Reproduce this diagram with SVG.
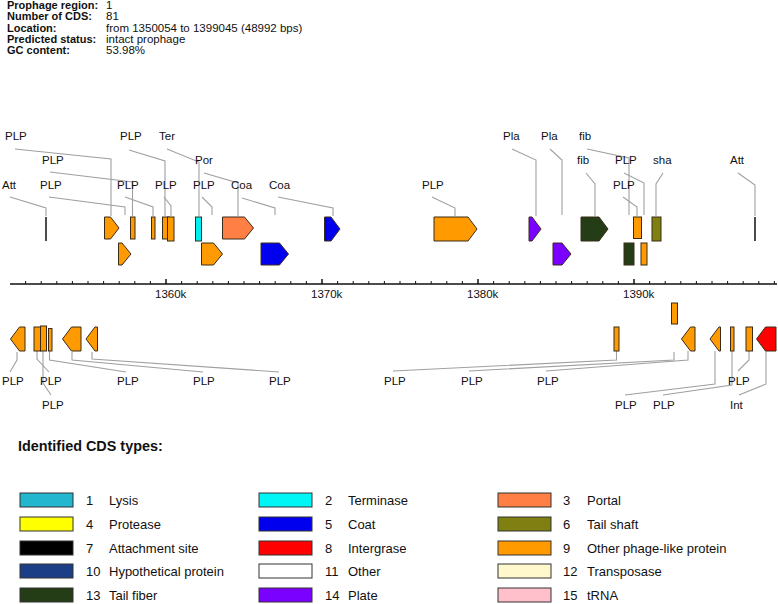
<svg xmlns="http://www.w3.org/2000/svg" width="778" height="604" viewBox="0 0 778 604">
<style>
text{font-family:"Liberation Sans",Arial,sans-serif;fill:#111}
.hb{font-size:11px;font-weight:bold}
.hv{font-size:11.5px}
.lbl{font-size:11.5px}
.ax{font-size:11.5px}
.lg{font-size:13px}
.lt{font-size:14.4px;font-weight:bold}
.ldr{fill:none;stroke:#a0a0a0;stroke-width:1.1}
.g{stroke:#3a2c18;stroke-width:1}
.att{stroke:#111;stroke-width:1.5}
.sw{stroke:#333;stroke-width:1}
.o{fill:#ff9a00}.cy{fill:#00f0f0}.po{fill:#ff7f45}.bl{fill:#0000ee}.pu{fill:#7a00ff}.dg{fill:#243d16}.ol{fill:#7f7f12}.rd{fill:#ff0000}
</style>
<g id="header">
<text class="hb" x="7" y="9">Prophage region:</text><text class="hv" x="106" y="9">1</text>
<text class="hb" x="7" y="20.3">Number of CDS:</text><text class="hv" x="106" y="20.3">81</text>
<text class="hb" x="7" y="31.5">Location:</text><text class="hv" x="106" y="31.5">from 1350054 to 1399045 (48992 bps)</text>
<text class="hb" x="7" y="42.5">Predicted status:</text><text class="hv" x="106" y="42.5">intact prophage</text>
<text class="hb" x="7" y="53.5">GC content:</text><text class="hv" x="106" y="53.5">53.98%</text>
</g>
<g id="connectors">
<polyline class="ldr" points="15,149 111,159 111,216"/>
<polyline class="ldr" points="50,172 132.5,182 132.5,216"/>
<polyline class="ldr" points="10,197 46,208 46,216"/>
<polyline class="ldr" points="49,197 125,207 125,215"/>
<polyline class="ldr" points="125,197 153,207 153,216"/>
<polyline class="ldr" points="129,150 165,161 165,216"/>
<polyline class="ldr" points="164,197 171,206 171,216"/>
<polyline class="ldr" points="167,149 199,162 199,216"/>
<polyline class="ldr" points="204,173 238,183 238,216"/>
<polyline class="ldr" points="202,197 212,207 212,215"/>
<polyline class="ldr" points="242,198 275,208 275,215"/>
<polyline class="ldr" points="278,197 333,208 333,216"/>
<polyline class="ldr" points="432,197 455,208 455,216"/>
<polyline class="ldr" points="512,149 536,160 536,216"/>
<polyline class="ldr" points="550,149 562,160 562,215"/>
<polyline class="ldr" points="587,149 629,158 629,215"/>
<polyline class="ldr" points="586,173 595,184 595,216"/>
<polyline class="ldr" points="624,173 644,183 644,215"/>
<polyline class="ldr" points="623,197 637,207 637,216"/>
<polyline class="ldr" points="663,173 656,184 656,216"/>
<polyline class="ldr" points="738,173 755,185 755,216"/>
<polyline class="ldr" points="17,352 17,360 10,372"/>
<polyline class="ldr" points="37,351 37,359 49,372"/>
<polyline class="ldr" points="43,351 43,383 51,395"/>
<polyline class="ldr" points="49.5,351 49.5,360 126,372"/>
<polyline class="ldr" points="72,352 72,360 203,372"/>
<polyline class="ldr" points="92,352 92,359 279,372"/>
<polyline class="ldr" points="616.5,351 616.5,360 393,371"/>
<polyline class="ldr" points="674,352 674,360 469,371"/>
<polyline class="ldr" points="688,351 688,360 546,371"/>
<polyline class="ldr" points="749,351 749,360 738,371"/>
<polyline class="ldr" points="715,351 715,384 625,395"/>
<polyline class="ldr" points="732,351 732,385 663,395"/>
<polyline class="ldr" points="766,351 766,384 739,395"/>
</g>
<g id="labels">
<text class="lbl" x="5" y="140">PLP</text>
<text class="lbl" x="42" y="163.5">PLP</text>
<text class="lbl" x="2" y="188.5">Att</text>
<text class="lbl" x="40" y="188.5">PLP</text>
<text class="lbl" x="117" y="188.5">PLP</text>
<text class="lbl" x="120" y="140">PLP</text>
<text class="lbl" x="155" y="188.5">PLP</text>
<text class="lbl" x="159" y="140">Ter</text>
<text class="lbl" x="195" y="163.5">Por</text>
<text class="lbl" x="193" y="188.5">PLP</text>
<text class="lbl" x="231" y="188.5">Coa</text>
<text class="lbl" x="269" y="188.5">Coa</text>
<text class="lbl" x="422" y="188.5">PLP</text>
<text class="lbl" x="503" y="140">Pla</text>
<text class="lbl" x="541" y="140">Pla</text>
<text class="lbl" x="579" y="140">fib</text>
<text class="lbl" x="577" y="163.5">fib</text>
<text class="lbl" x="615" y="163.5">PLP</text>
<text class="lbl" x="613" y="188.5">PLP</text>
<text class="lbl" x="653" y="163.5">sha</text>
<text class="lbl" x="730" y="163.5">Att</text>
<text class="lbl" x="2" y="385">PLP</text>
<text class="lbl" x="40" y="385">PLP</text>
<text class="lbl" x="42" y="409">PLP</text>
<text class="lbl" x="117" y="385">PLP</text>
<text class="lbl" x="193" y="385">PLP</text>
<text class="lbl" x="269" y="385">PLP</text>
<text class="lbl" x="384" y="385">PLP</text>
<text class="lbl" x="461" y="385">PLP</text>
<text class="lbl" x="537" y="385">PLP</text>
<text class="lbl" x="728" y="385">PLP</text>
<text class="lbl" x="615" y="409">PLP</text>
<text class="lbl" x="653" y="409">PLP</text>
<text class="lbl" x="730" y="409">Int</text>
</g>
<g id="genes-forward">
<line id="att1" class="att" x1="46" y1="217" x2="46" y2="241"/>
<path id="g1" class="g o" d="M104.5 217H110.5L119 228L110.5 239H104.5Z"/>
<rect id="g2" class="g o" x="130.5" y="217" width="4.5" height="22"/>
<rect id="g3" class="g o" x="151.5" y="217" width="3.5" height="22"/>
<rect id="g4" class="g o" x="162.5" y="217" width="6.5" height="22"/>
<rect id="g5" class="g o" x="167.5" y="217" width="6.5" height="24"/>
<rect id="g6" class="g cy" x="195.5" y="217" width="6" height="24"/>
<path id="g7" class="g po" d="M222.5 217H244.5L253.5 228L244.5 239H222.5Z"/>
<path id="g8" class="g bl" d="M324.5 217H331L340 229L331 241H324.5Z"/>
<path id="g9" class="g o" d="M434 217H468L477 229L468 241H434Z"/>
<path id="g10" class="g pu" d="M529 217H532L541 229L532 241H529Z"/>
<path id="g11" class="g dg" d="M581 217H599L608 229L599 241H581Z"/>
<rect id="g12" class="g o" x="633.5" y="217" width="8" height="21.5"/>
<rect id="g13" class="g ol" x="652" y="217" width="9" height="24"/>
<line id="att2" class="att" x1="755" y1="217" x2="755" y2="241"/>
<path id="g14" class="g o" d="M118.5 243H122L131 254L122 265H118.5Z"/>
<path id="g15" class="g o" d="M201.5 243H213.5L222.5 254L213.5 265H201.5Z"/>
<path id="g16" class="g bl" d="M261 243H279.5L288.5 254L279.5 265H261Z"/>
<path id="g17" class="g pu" d="M553 243H562L571 254L562 265H553Z"/>
<rect id="g18" class="g dg" x="624" y="243" width="10" height="22"/>
<rect id="g19" class="g o" x="641" y="243" width="6" height="22"/>
</g>
<g id="axis">
<line x1="10" y1="284" x2="777" y2="284" stroke="#111" stroke-width="1.5"/>
<path stroke="#111" stroke-width="1" fill="none" d="M25.6 281V284M41.2 281V284M56.8 281V284M72.4 281V284M88 281V284M103.6 281V284M119.2 281V284M134.8 281V284M150.4 281V284M181.6 281V284M197.2 281V284M212.8 281V284M228.4 281V284M244 281V284M259.6 281V284M275.2 281V284M290.8 281V284M306.4 281V284M337.6 281V284M353.2 281V284M368.8 281V284M384.4 281V284M400 281V284M415.6 281V284M431.2 281V284M446.8 281V284M462.4 281V284M493.6 281V284M509.2 281V284M524.8 281V284M540.4 281V284M556 281V284M571.6 281V284M587.2 281V284M602.8 281V284M618.4 281V284M649.6 281V284M665.2 281V284M680.8 281V284M696.4 281V284M712 281V284M727.6 281V284M743.2 281V284M758.8 281V284M774.4 281V284"/>
<path stroke="#111" stroke-width="1.5" fill="none" d="M166 279V284M322 279V284M478 279V284M634 279V284"/>
<text class="ax" x="155" y="298">1360k</text>
<text class="ax" x="311" y="298">1370k</text>
<text class="ax" x="467" y="298">1380k</text>
<text class="ax" x="623" y="298">1390k</text>
</g>
<g id="genes-reverse">
<path id="r1" class="g o" d="M25 327H19.5L10.5 339L19.5 351H25Z"/>
<rect id="r2" class="g o" x="34" y="327" width="6.5" height="24"/>
<rect id="r3" class="g o" x="40.5" y="326" width="6" height="25"/>
<rect id="r4" class="g o" x="48.5" y="328.5" width="3.5" height="22.5"/>
<path id="r5" class="g o" d="M81 327H71.5L62.5 339L71.5 351H81Z"/>
<path id="r6" class="g o" d="M97.5 327H95L86 339L95 351H97.5Z"/>
<rect id="r7" class="g o" x="614" y="327" width="5" height="24"/>
<rect id="r8" class="g o" x="671.5" y="303" width="6" height="21"/>
<path id="r9" class="g o" d="M695 327H690.5L681.5 339L690.5 351H695Z"/>
<path id="r10" class="g o" d="M720.5 327H719L710 339L719 351H720.5Z"/>
<rect id="r11" class="g o" x="730.5" y="327" width="3.5" height="24"/>
<rect id="r12" class="g o" x="746" y="327" width="6.5" height="24"/>
<path id="r13" class="g rd" d="M776 327H765.5L756.5 339L765.5 351H776Z"/>
</g>
<g id="legend">
<text class="lt" x="18" y="451">Identified CDS types:</text>
<g id="leg1"><rect class="sw" x="20" y="493" width="53" height="14" fill="#22b6cf"/><text class="lg" x="86" y="505">1</text><text class="lg" x="109" y="505">Lysis</text></g>
<g id="leg2"><rect class="sw" x="259" y="493" width="53" height="14" fill="#00f5f5"/><text class="lg" x="325" y="505">2</text><text class="lg" x="348" y="505">Terminase</text></g>
<g id="leg3"><rect class="sw" x="498" y="493" width="53" height="14" fill="#ff7f45"/><text class="lg" x="563" y="505">3</text><text class="lg" x="587" y="505">Portal</text></g>
<g id="leg4"><rect class="sw" x="20" y="517" width="53" height="14" fill="#ffff00"/><text class="lg" x="86" y="529">4</text><text class="lg" x="109" y="529">Protease</text></g>
<g id="leg5"><rect class="sw" x="259" y="517" width="53" height="14" fill="#0000ee"/><text class="lg" x="325" y="529">5</text><text class="lg" x="348" y="529">Coat</text></g>
<g id="leg6"><rect class="sw" x="498" y="517" width="53" height="14" fill="#7f7f12"/><text class="lg" x="563" y="529">6</text><text class="lg" x="587" y="529">Tail shaft</text></g>
<g id="leg7"><rect class="sw" x="20" y="541" width="53" height="14" fill="#000000"/><text class="lg" x="86" y="553">7</text><text class="lg" x="109" y="553">Attachment site</text></g>
<g id="leg8"><rect class="sw" x="259" y="541" width="53" height="14" fill="#ff0000"/><text class="lg" x="325" y="553">8</text><text class="lg" x="348" y="553">Intergrase</text></g>
<g id="leg9"><rect class="sw" x="498" y="541" width="53" height="14" fill="#ff9a00"/><text class="lg" x="563" y="553">9</text><text class="lg" x="587" y="553">Other phage-like protein</text></g>
<g id="leg10"><rect class="sw" x="20" y="564" width="53" height="14" fill="#1c3e86"/><text class="lg" x="86" y="576">10</text><text class="lg" x="109" y="576">Hypothetical protein</text></g>
<g id="leg11"><rect class="sw" x="259" y="564" width="53" height="14" fill="#ffffff"/><text class="lg" x="325" y="576">11</text><text class="lg" x="348" y="576">Other</text></g>
<g id="leg12"><rect class="sw" x="498" y="564" width="53" height="14" fill="#fff8cc"/><text class="lg" x="563" y="576">12</text><text class="lg" x="587" y="576">Transposase</text></g>
<g id="leg13"><rect class="sw" x="20" y="588" width="53" height="14" fill="#243d16"/><text class="lg" x="86" y="600">13</text><text class="lg" x="109" y="600">Tail fiber</text></g>
<g id="leg14"><rect class="sw" x="259" y="588" width="53" height="14" fill="#7a00ff"/><text class="lg" x="325" y="600">14</text><text class="lg" x="348" y="600">Plate</text></g>
<g id="leg15"><rect class="sw" x="498" y="588" width="53" height="14" fill="#ffc0cb"/><text class="lg" x="563" y="600">15</text><text class="lg" x="587" y="600">tRNA</text></g>
</g>
</svg>
